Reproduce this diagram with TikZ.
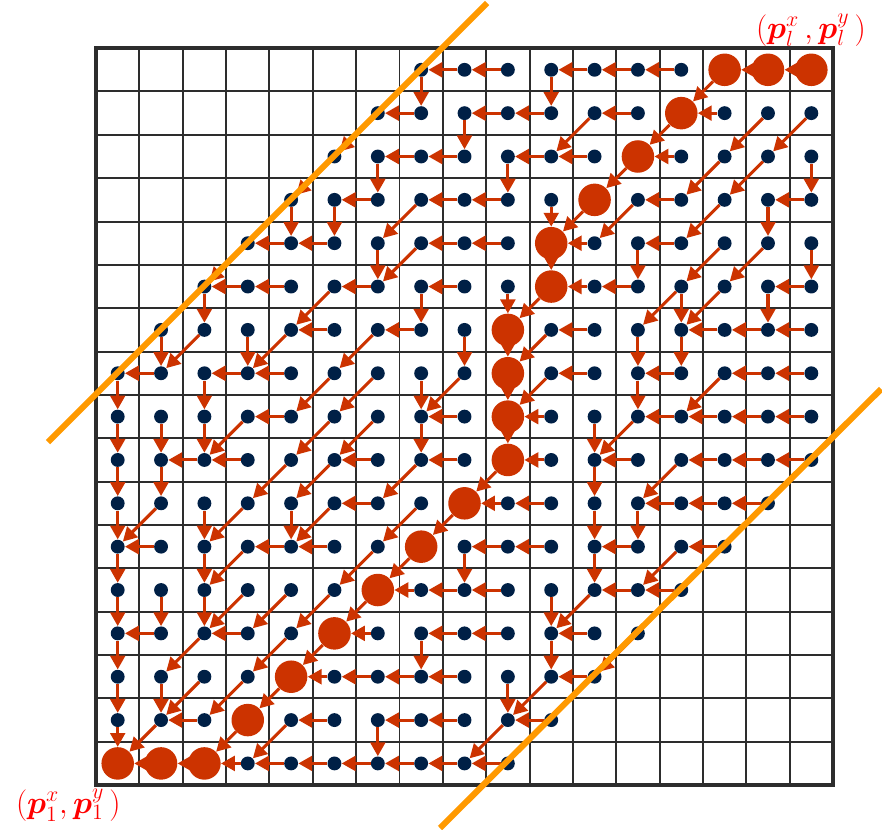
\documentclass[tikz,border=0pt]{standalone}
\usepackage{bm}
\usetikzlibrary{arrows.meta}

\definecolor{navydot}{RGB}{0,32,70}
\definecolor{pathred}{RGB}{204,51,0}
\definecolor{bandorange}{RGB}{255,153,0}
\definecolor{labelred}{RGB}{255,0,0}
\definecolor{gridgray}{RGB}{45,45,45}

\tikzset{
  cell/.style={circle, fill=navydot, inner sep=0pt, minimum size=0.32cm},
  pathcell/.style={circle, fill=pathred, inner sep=0pt, minimum size=0.75cm},
  pointer/.style={-{Triangle[length=0.32cm,width=0.34cm]}, line width=2pt, pathred},
  bandline/.style={bandorange, line width=4pt},
}

% back-pointers, one row per line from the top: L left, D down, G diagonal,
% B down and diagonal, . no pointer, - outside the band
\def\pointers{
  0/{-,-,-,-,-,-,-,D,L,L,D,L,L,L,G,L,L},
  1/{-,-,-,-,-,-,G,L,D,L,L,G,L,G,L,G,G},
  2/{-,-,-,-,-,G,D,L,L,D,L,L,G,L,G,G,D},
  3/{-,-,-,-,D,D,L,G,L,L,D,G,G,L,G,D,L},
  4/{-,-,-,G,L,L,D,G,L,L,D,L,D,L,G,G,D},
  5/{-,-,D,L,L,G,L,D,L,D,G,L,L,B,G,D,L},
  6/{-,D,G,D,G,L,G,L,D,D,G,L,D,D,L,L,L},
  7/{D,L,D,L,L,G,G,D,G,D,G,L,D,L,G,L,L},
  8/{D,D,D,G,L,G,G,D,L,D,L,D,G,L,L,L,L},
  9/{D,D,L,L,G,G,L,G,L,G,L,D,L,G,L,L,L},
  10/{D,G,D,G,D,G,L,G,G,L,L,D,D,L,L,L,-},
  11/{D,L,D,G,L,L,G,G,D,L,L,D,L,G,L,-,-},
  12/{D,D,D,G,G,G,G,L,L,L,D,G,L,L,-,-,-},
  13/{D,L,G,L,G,G,L,D,L,L,D,L,G,-,-,-,-},
  14/{D,D,G,G,G,L,L,L,L,D,G,L,-,-,-,-,-},
  15/{D,G,L,G,G,L,D,L,L,G,L,-,-,-,-,-,-},
  16/{.,L,L,L,L,L,L,L,L,L,-,-,-,-,-,-,-}}

\begin{document}
\begin{tikzpicture}
  \useasboundingbox (-2.215,-1.015) rectangle (18.13,18.11);

  % Grid
  \draw[gridgray, line width=1.3pt] (0,0) grid (17,17);
  \draw[gridgray, line width=3pt] (0,0) rectangle (17,17);

  % Cells inside the band
  \foreach \r/\row in \pointers {
    \foreach \p [count=\c from 0] in \row {
      \if\p-\else
        \node[cell] (n-\c-\r) at (\c+0.5,16.5-\r) {};
      \fi
    }
  }

  % Warping path
  \foreach \c/\r in {16/0,15/0,14/0,13/1,12/2,11/3,10/4,10/5,9/6,9/7,9/8,
                     9/9,8/10,7/11,6/12,5/13,4/14,3/15,2/16,1/16,0/16}
    \node[pathcell] (n-\c-\r) at (\c+0.5,16.5-\r) {};

  % Arrows
  \foreach \r/\row in \pointers {
    \foreach \p [count=\c from 0] in \row {
      \pgfmathtruncatemacro\cl{\c-1}
      \pgfmathtruncatemacro\rd{\r+1}
      \if\p L\draw[pointer] (n-\c-\r) -- (n-\cl-\r);\fi
      \if\p D\draw[pointer] (n-\c-\r) -- (n-\c-\rd);\fi
      \if\p G\draw[pointer] (n-\c-\r) -- (n-\cl-\rd);\fi
      \if\p B\draw[pointer] (n-\c-\r) -- (n-\c-\rd);
             \draw[pointer] (n-\c-\r) -- (n-\cl-\rd);\fi
    }
  }

  % Band limits
  \draw[bandline] (-1.107,7.912) -- (9.02,18.04);
  \draw[bandline] (7.935,-0.99) -- (18.11,9.135);

  % End labels
  \node[labelred, font=\huge] (endlabel) at (16.49,17.42)
    {$(\bm{p}_{l}^{x}\,,\bm{p}_{l}^{y}\,)$};
  \node[labelred, font=\huge] (startlabel) at (-0.64,-0.46)
    {$(\bm{p}_{1}^{x},\bm{p}_{1}^{y}\,)$};
\end{tikzpicture}
\end{document}
